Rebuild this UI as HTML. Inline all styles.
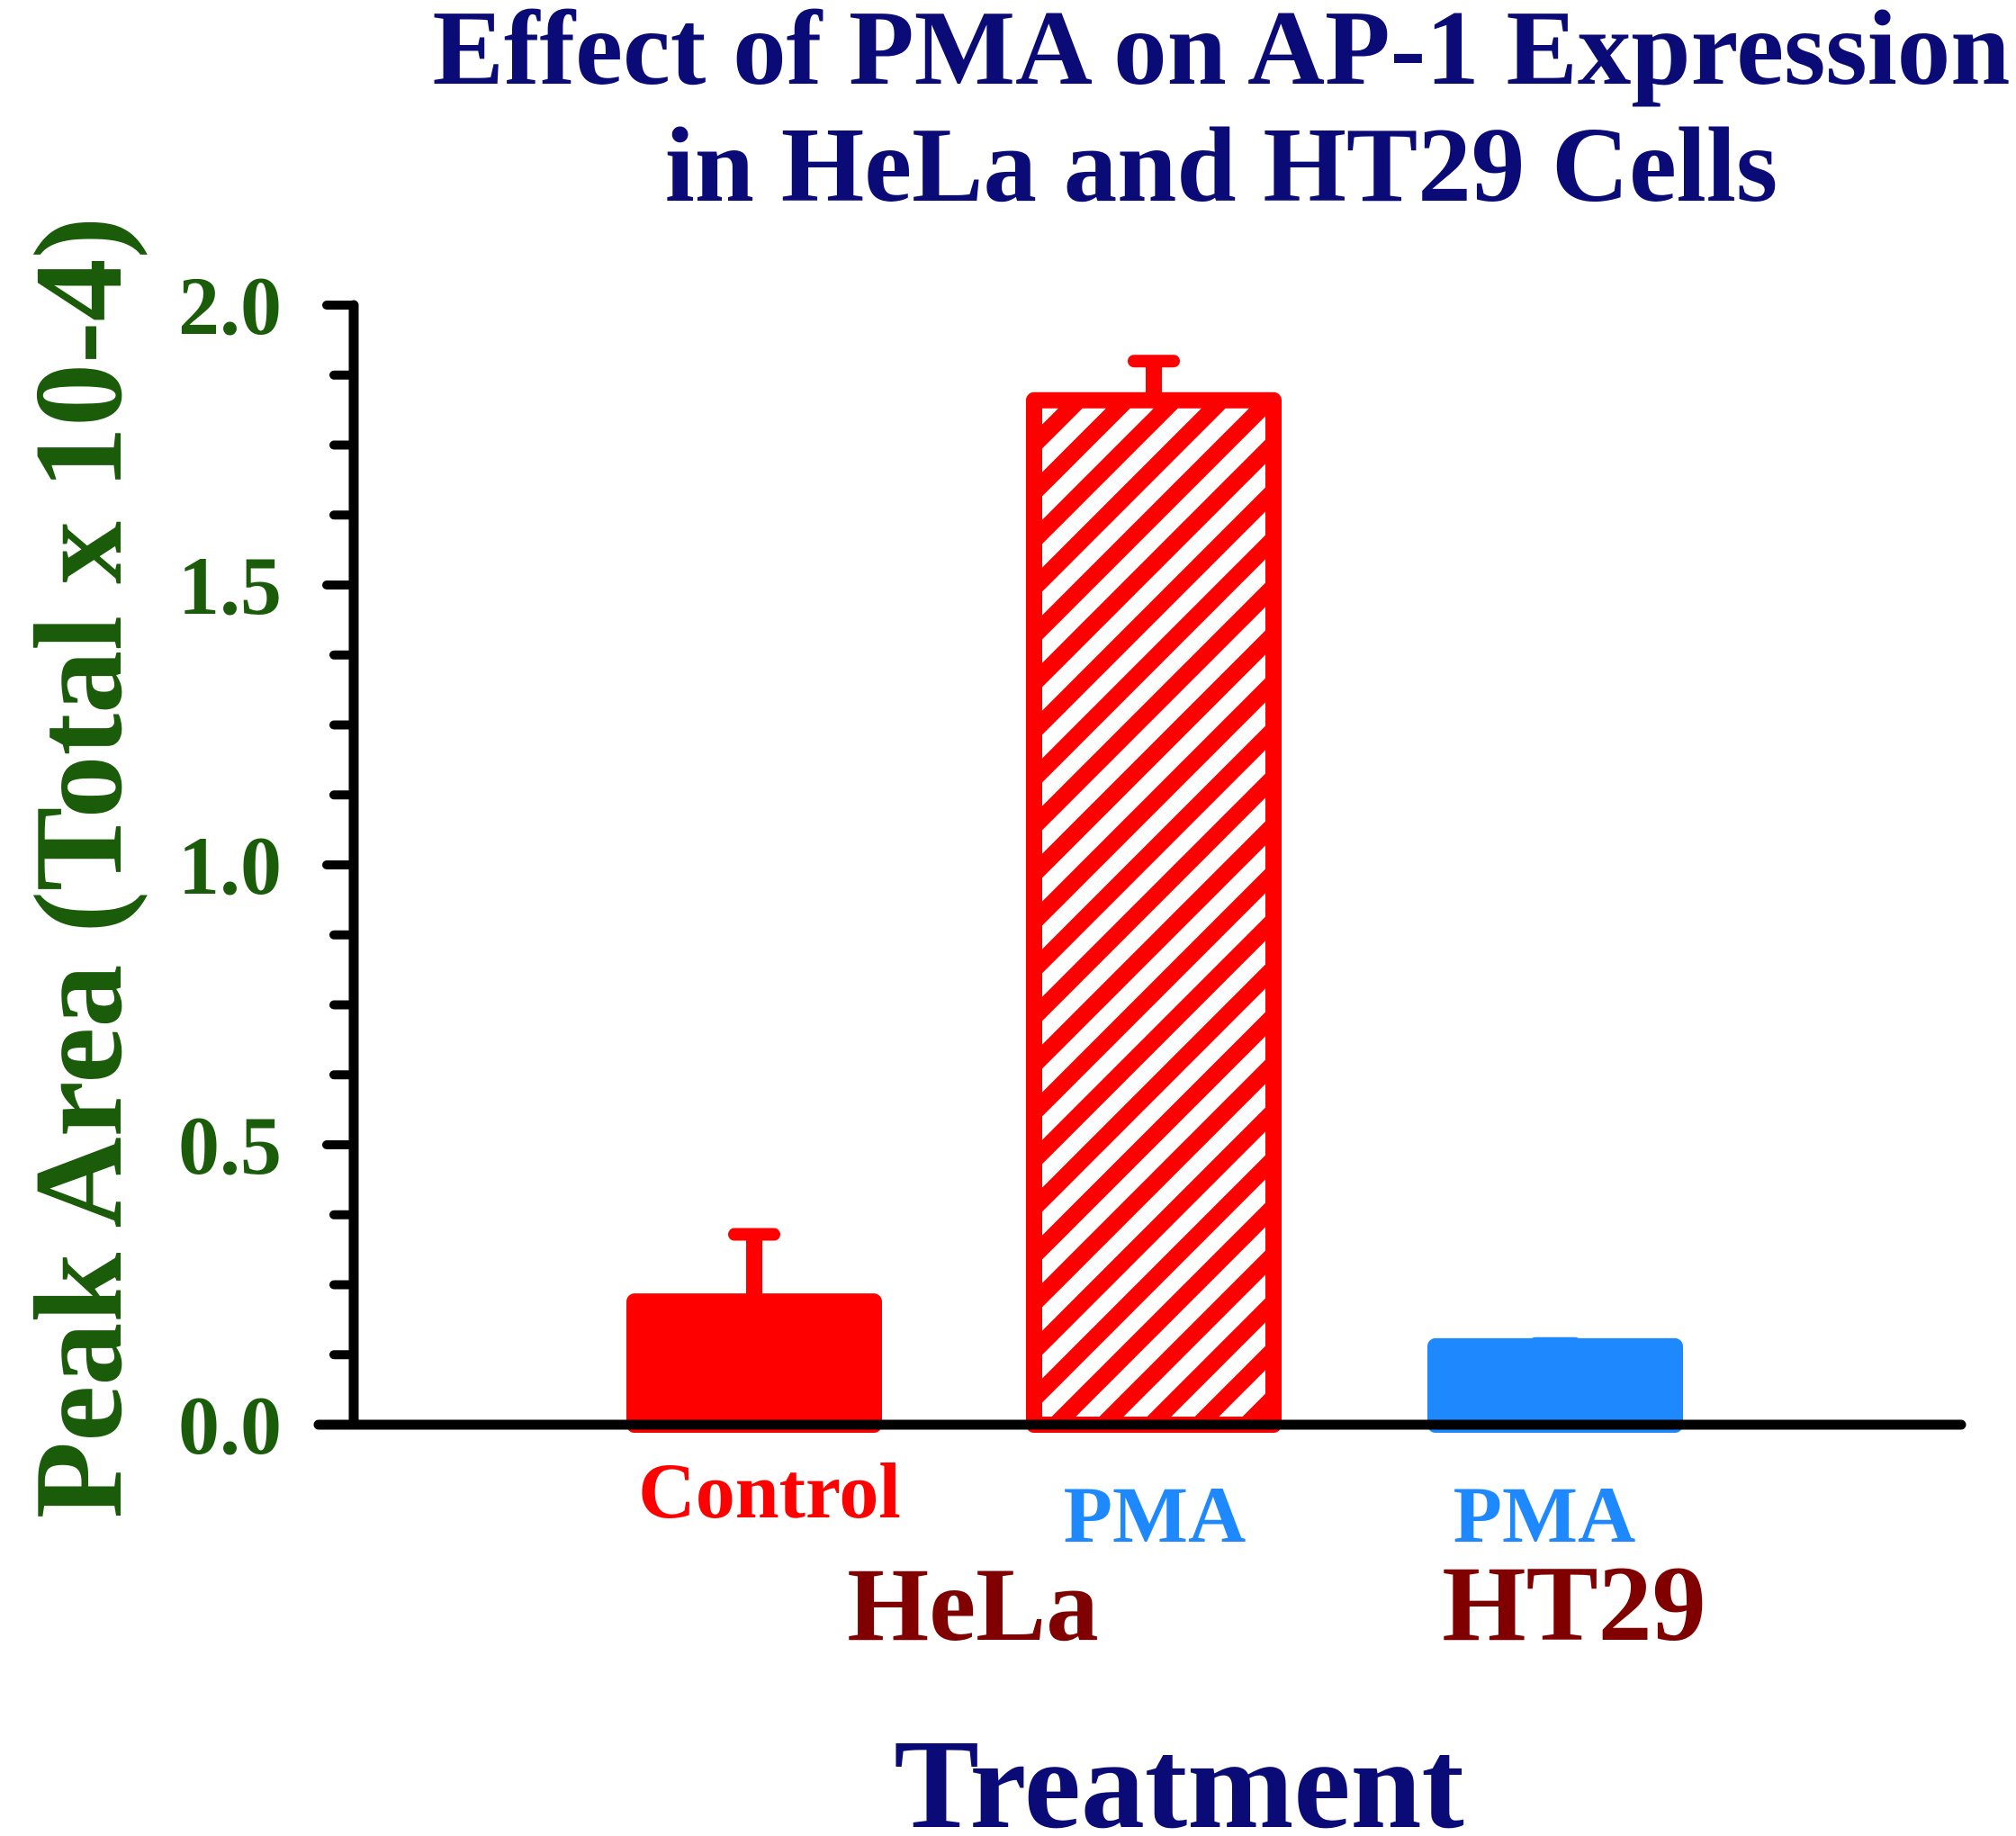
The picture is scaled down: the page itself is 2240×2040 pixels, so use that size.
<!DOCTYPE html>
<html><head><meta charset="utf-8">
<style>
html,body{margin:0;padding:0;background:#fff;}
svg{display:block;}
text{font-family:"Liberation Serif",serif;font-weight:bold;}
</style></head>
<body>
<svg id="chart" width="2240" height="2040" viewBox="0 0 2240 2040" xmlns="http://www.w3.org/2000/svg">
<defs>
<pattern id="hatch" patternUnits="userSpaceOnUse" width="53" height="53">
<path d="M-13.25,13.25 L13.25,-13.25 M0,53 L53,0 M39.75,66.25 L66.25,39.75" stroke="#ff0000" stroke-width="19"/>
</pattern>
</defs>
<text x="1357" y="93" font-size="119" fill="#0b0b78" text-anchor="middle">Effect of PMA on AP-1 Expression</text>
<text x="1357" y="223" font-size="119" fill="#0b0b78" text-anchor="middle">in HeLa and HT29 Cells</text>
<text transform="translate(134,964) rotate(-90)" font-size="140" fill="#1a5c0a" text-anchor="middle">Peak Area (Total x 10-4)</text>
<text x="1310" y="2030" font-size="142" fill="#0b0b78" text-anchor="middle">Treatment</text>
<g id="ticks"></g>
<g id="bars"></g>
<line x1="354" y1="1583" x2="2179" y2="1583" stroke="#000" stroke-width="11" stroke-linecap="round"/>
<line x1="393" y1="339" x2="393" y2="1583" stroke="#000" stroke-width="11" stroke-linecap="round"/>
<text x="855" y="1686" font-size="88" fill="#ff0000" text-anchor="middle">Control</text>
<text x="1283" y="1713" font-size="89" fill="#1e88ff" text-anchor="middle">PMA</text>
<text x="1716" y="1713" font-size="89" fill="#1e88ff" text-anchor="middle">PMA</text>
<text x="1081" y="1822" font-size="117" fill="#800000" text-anchor="middle">HeLa</text>
<text x="1749" y="1822" font-size="120" fill="#800000" text-anchor="middle">HT29</text>
</svg>
<script>
const categories = ["HeLa Control", "HeLa PMA", "HT29 PMA"];
const values = [0.22, 1.83, 0.14];
const errors = [0.12, 0.07, 0.005];
const tickLabels = ["0.0", "0.5", "1.0", "1.5", "2.0"];
const tickValues = [0, 0.5, 1.0, 1.5, 2.0];

const NS = "http://www.w3.org/2000/svg";
const y0 = 1583, y2 = 339, xAxis = 393;
function yScale(v){ return y0 - (y0 - y2) * v / 2.0; }
const barLeft = [705, 1149, 1595], barW = 266;
const fills = ["#ff0000", "url(#hatch)", "#1e88ff"];
const strokes = ["#ff0000", "#ff0000", "#1e88ff"];
function mk(tag, attrs){ const e = document.createElementNS(NS, tag); for (const k in attrs) e.setAttribute(k, attrs[k]); return e; }

const tg = document.getElementById("ticks");
for (let i = 0; i <= 16; i++) {
  const v = i * 0.125, y = yScale(v), major = i % 4 === 0;
  const t = mk("line", {x1: xAxis - (major ? 30 : 22), y1: y, x2: xAxis, y2: y, stroke: "#000", "stroke-width": 10, "stroke-linecap": "round"});
  
  
  tg.appendChild(t);
}
tickValues.forEach((v, i) => {
  const t = mk("text", {x: 313, y: yScale(v) + 32, "font-size": 92, fill: "#1a5c0a", "text-anchor": "end"});
  t.textContent = tickLabels[i];
  
  
  tg.appendChild(t);
});

const bg = document.getElementById("bars");
categories.forEach((c, i) => {
  const x = barLeft[i], yt = yScale(values[i]);
  const cx = x + barW / 2, ye = yScale(values[i] + errors[i]);
  const el = mk("line", {x1: cx, y1: yt, x2: cx, y2: ye, stroke: strokes[i], "stroke-width": 18});
  
  
  bg.appendChild(el);
  const cap = mk("line", {x1: cx - 22, y1: ye, x2: cx + 22, y2: ye, stroke: strokes[i], "stroke-width": 14, "stroke-linecap": "round"});
  
  
  bg.appendChild(cap);
  const r = mk("rect", {x: x, y: yt, width: barW, height: y0 - yt, fill: fills[i], stroke: strokes[i], "stroke-width": 18, "stroke-linejoin": "round"});
  
  
  bg.appendChild(r);
});
</script>
</body></html>
